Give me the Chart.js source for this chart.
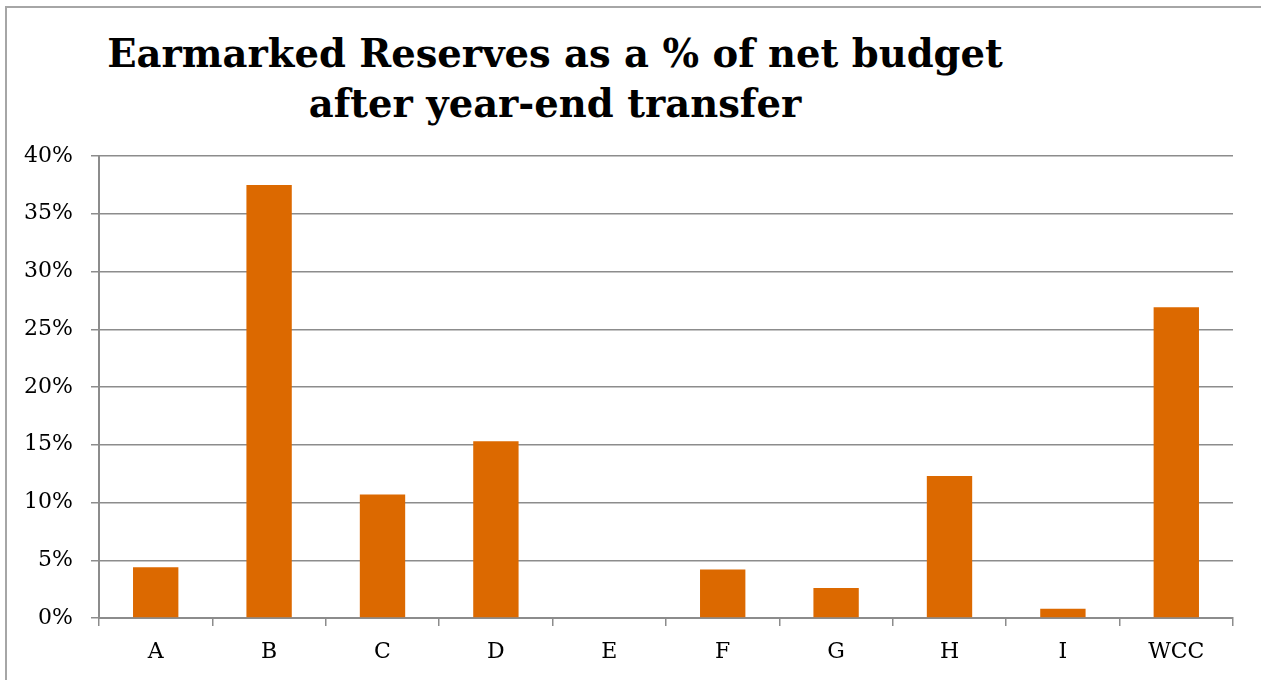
<!DOCTYPE html>
<html>
<head>
<meta charset="utf-8">
<script src="https://cdn.jsdelivr.net/npm/chart.js@4"></script>
<style>
  html, body { margin: 0; padding: 0; background: #fff; overflow: hidden; width: 1261px; height: 680px; }
  #frame { position: absolute; left: 5px; top: 6px; width: 1254px; height: 674px;
           border-left: 2px solid #a6a6a6; border-top: 2px solid #a6a6a6; }
  #title { position: absolute; left: 55px; width: 1000px; top: 29px; margin: 0;
           text-align: center; font-family: "DejaVu Serif", serif; font-weight: bold;
           font-size: 38.5px; line-height: 50px; color: #000; }
  #wrap { position: absolute; left: 0; top: 0; width: 1261px; height: 680px; }
</style>
</head>
<body>
<div id="frame"></div>
<h1 id="title">Earmarked Reserves as a % of net budget<br>after year-end transfer</h1>
<div id="wrap"><canvas id="chart"></canvas></div>
<script>
// Earmarked reserves as a share of each net budget
const categories = ['A', 'B', 'C', 'D', 'E', 'F', 'G', 'H', 'I', 'WCC'];
const reservePct = [4.4, 37.5, 10.7, 15.3, 0, 4.2, 2.6, 12.3, 0.8, 26.9];
const yTicks = [0, 5, 10, 15, 20, 25, 30, 35, 40];

const gridGrey = '#8c8c8c';

new Chart(document.getElementById('chart'), {
  type: 'bar',
  data: {
    labels: categories,
    datasets: [{
      data: reservePct,
      backgroundColor: '#dc6900',
      borderWidth: 0,
      barPercentage: 0.4,
      categoryPercentage: 1.0
    }]
  },
  options: {
    responsive: true,
    maintainAspectRatio: false,
    animation: false,
    layout: { padding: { top: 156, right: 28, left: 0, bottom: 0 } },
    plugins: { legend: { display: false }, title: { display: false }, tooltip: { enabled: false } },
    scales: {
      x: {
        grid: { drawOnChartArea: false, drawTicks: true, tickLength: 8, color: gridGrey, lineWidth: 1.5, offset: true },
        border: { display: true, color: gridGrey, width: 2 },
        ticks: { color: '#000', padding: 13, font: { family: 'DejaVu Serif', size: 22 } },
        afterFit: s => { s.height = 62; }
      },
      y: {
        min: 0, max: 40,
        afterBuildTicks: s => { s.ticks = yTicks.map(v => ({ value: v })); },
        grid: { color: gridGrey, lineWidth: 1.5, tickLength: 8 },
        border: { display: true, color: gridGrey, width: 2 },
        ticks: { color: '#000', padding: 18, font: { family: 'DejaVu Serif', size: 22 },
                 callback: v => v + '%' },
        afterFit: s => { s.width = 99; }
      }
    }
  }
});
</script>
</body>
</html>
